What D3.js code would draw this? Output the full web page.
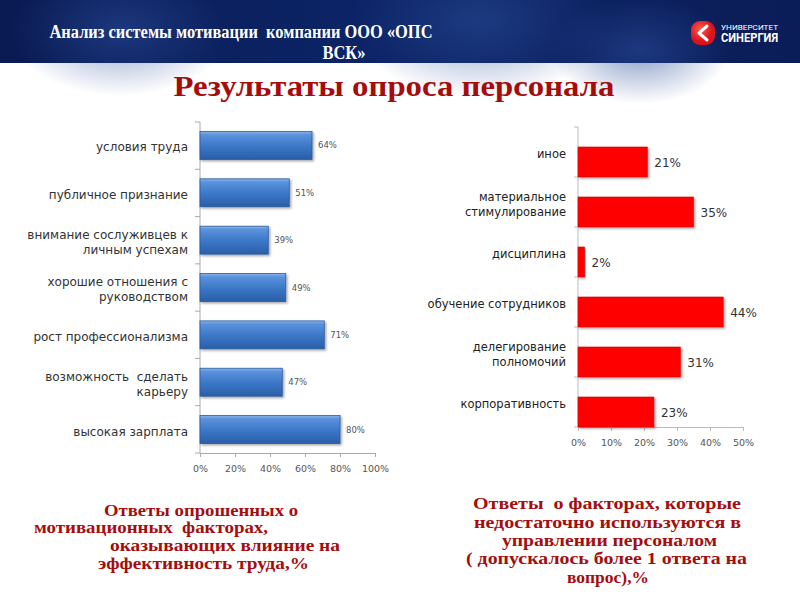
<!DOCTYPE html>
<html><head><meta charset="utf-8">
<script src="https://cdn.jsdelivr.net/npm/d3@7"></script>
<style>body{margin:0;background:#fff}svg{display:block}text{white-space:pre}</style>
</head><body>
<script>
// ---- data ----
const leftCategories = ["условия труда","публичное признание","внимание сослуживцев к\nличным успехам","хорошие отношения с\nруководством","рост профессионализма","возможность  сделать\nкарьеру","высокая зарплата"];
const leftValues = [0.64,0.51,0.39,0.49,0.71,0.47,0.80];
const leftTicks = [0,0.2,0.4,0.6,0.8,1.0];
const rightCategories = ["иное","материальное\nстимулирование","дисциплина","обучение сотрудников","делегирование\nполномочий","корпоративность"];
const rightValues = [0.21,0.35,0.02,0.44,0.31,0.23];
const rightTicks = [0,0.1,0.2,0.3,0.4,0.5];
const titleLines = ["Анализ системы мотивации  компании ООО «ОПС","ВСК»"];
const subtitle = "Результаты опроса персонала";
const leftCaption = ["Ответы опрошенных о","мотивационных  факторах,","оказывающих влияние на","эффективность труда,%"];
const rightCaption = ["Ответы  о факторах, которые","недостаточно используются в","управлении персоналом","( допускалось более 1 ответа на","вопрос),%"];

const W=800,H=600;
const svg=d3.select("body").append("svg").attr("width",W).attr("height",H);
const defs=svg.append("defs");

// header gradient
const hg=defs.append("linearGradient").attr("id","hdr").attr("x1",0).attr("x2",1).attr("y1",0).attr("y2",0);
hg.append("stop").attr("offset","0%").attr("stop-color","#0a1a52");
hg.append("stop").attr("offset","45%").attr("stop-color","#0c2466");
hg.append("stop").attr("offset","100%").attr("stop-color","#0b1d58");
const rg=defs.append("radialGradient").attr("id","glow");
rg.append("stop").attr("offset","0%").attr("stop-color","#2a4d9a").attr("stop-opacity",0.55);
rg.append("stop").attr("offset","100%").attr("stop-color","#2a4d9a").attr("stop-opacity",0);
const bg=defs.append("linearGradient").attr("id","blueBar").attr("x1",0).attr("x2",0).attr("y1",0).attr("y2",1);
bg.append("stop").attr("offset","0%").attr("stop-color","#8ab4ec");
bg.append("stop").attr("offset","12%").attr("stop-color","#5a92dc");
bg.append("stop").attr("offset","55%").attr("stop-color","#3a76c6");
bg.append("stop").attr("offset","100%").attr("stop-color","#2a5ea8");
const lgr=defs.append("radialGradient").attr("id","logoG").attr("cx","40%").attr("cy","35%");
lgr.append("stop").attr("offset","0%").attr("stop-color","#ff5a4a");
lgr.append("stop").attr("offset","100%").attr("stop-color","#d8141c");
const sh=defs.append("filter").attr("id","shadow").attr("x","-10%").attr("y","-20%").attr("width","130%").attr("height","160%");
sh.append("feDropShadow").attr("dx",1.5).attr("dy",1.5).attr("stdDeviation",1.2).attr("flood-color","#000").attr("flood-opacity",0.35);

// header
svg.append("rect").attr("x",0).attr("y",0).attr("width",W).attr("height",63).attr("fill","url(#hdr)");
[[120,30,110],[480,20,130],[640,50,90]].forEach(([cx,cy,r])=>svg.append("ellipse").attr("cx",cx).attr("cy",cy).attr("rx",r).attr("ry",r*0.6).attr("fill","url(#glow)"));
const tl=[{y:38,x:241,len:383},{y:59,x:344,len:43}];
titleLines.forEach((t,i)=>svg.append("text").attr("x",tl[i].x).attr("y",tl[i].y).attr("text-anchor","middle")
  .attr("font-family","Liberation Serif, serif").attr("font-weight","bold").attr("font-size",18.5).attr("fill","#fff")
  .attr("textLength",tl[i].len).attr("lengthAdjust","spacingAndGlyphs").text(t));
// logo
svg.append("rect").attr("x",691).attr("y",21).attr("width",24).attr("height",24).attr("rx",9).attr("fill","url(#logoG)");
svg.append("path").attr("d","M707,26 L699,33 L707,40").attr("fill","none").attr("stroke","#fff").attr("stroke-width",3).attr("stroke-linecap","round").attr("stroke-linejoin","round");
svg.append("text").attr("x",721).attr("y",30).attr("font-family","Roboto, sans-serif").attr("font-size",8).attr("fill","#fff").attr("textLength",57).attr("lengthAdjust","spacingAndGlyphs").text("УНИВЕРСИТЕТ");
svg.append("text").attr("x",721).attr("y",42).attr("font-family","Roboto, sans-serif").attr("font-weight","bold").attr("font-size",12).attr("fill","#fff").attr("textLength",57).attr("lengthAdjust","spacingAndGlyphs").text("СИНЕРГИЯ");

// subtitle
svg.append("text").attr("x",394).attr("y",96).attr("text-anchor","middle").attr("font-family","Liberation Serif, serif")
  .attr("font-weight","bold").attr("font-size",29).attr("fill","#a50d0d").attr("textLength",441).attr("lengthAdjust","spacingAndGlyphs").text(subtitle);

// ---- left chart ----
const lx=d3.scaleLinear().domain([0,1]).range([200,375]);
const ly=d3.scaleBand().domain(leftCategories).range([122,453]).paddingInner(0.41).paddingOuter(0.2);
const lg=svg.append("g");
lg.append("line").attr("x1",lx(0)).attr("x2",lx(0)).attr("y1",122).attr("y2",453).attr("stroke","#aaa");
d3.range(leftCategories.length+1).forEach(i=>{const yy=122+i*(331/leftCategories.length);
  lg.append("line").attr("x1",lx(0)-5).attr("x2",lx(0)).attr("y1",yy).attr("y2",yy).attr("stroke","#aaa");});
const lxa=lg.append("g").attr("transform","translate(0,453)").call(d3.axisBottom(lx).tickValues(leftTicks).tickFormat(d3.format(".0%")).tickSize(4).tickPadding(8));
lxa.select(".domain").attr("stroke","#aaa");
lxa.selectAll(".tick line").attr("stroke","#aaa");
lxa.selectAll("text").attr("font-family","DejaVu Sans, sans-serif").attr("font-size",9.5).attr("fill","#555");
lg.selectAll("rect.bar").data(leftValues).join("rect").attr("class","bar")
  .attr("x",lx(0)).attr("y",(d,i)=>ly(leftCategories[i])).attr("width",d=>lx(d)-lx(0)).attr("height",ly.bandwidth())
  .attr("fill","url(#blueBar)").attr("stroke","#2b5b9c").attr("stroke-width",0.8).attr("filter","url(#shadow)");
lg.selectAll("text.val").data(leftValues).join("text").attr("class","val")
  .attr("x",d=>lx(d)+6).attr("y",(d,i)=>ly(leftCategories[i])+ly.bandwidth()/2+3)
  .attr("font-family","DejaVu Sans, sans-serif").attr("font-size",8.5).attr("fill","#555").text(d=>d3.format(".0%")(d));
leftCategories.forEach(c=>{
  const lines=c.split("\n"); const cy=ly(c)+ly.bandwidth()/2+2; const lh=15;
  const t=lg.append("text").attr("text-anchor","end").attr("font-family","DejaVu Sans, sans-serif").attr("font-size",12).attr("fill","#333");
  lines.forEach((s,j)=>t.append("tspan").attr("x",188).attr("y",cy+4+(j-(lines.length-1)/2)*lh).text(s));
});

// ---- right chart ----
const rx=d3.scaleLinear().domain([0,0.5]).range([578,743]);
const ry=d3.scaleBand().domain(rightCategories).range([127,427]).paddingInner(0).paddingOuter(0);
const rgp=svg.append("g");
rgp.append("line").attr("x1",rx(0)).attr("x2",rx(0)).attr("y1",127).attr("y2",427).attr("stroke","#bbb");
d3.range(rightCategories.length+1).forEach(i=>{const yy=127+i*ry.step();
  rgp.append("line").attr("x1",rx(0)-4).attr("x2",rx(0)).attr("y1",yy).attr("y2",yy).attr("stroke","#bbb");});
const rxa=rgp.append("g").attr("transform","translate(0,427)").call(d3.axisBottom(rx).tickValues(rightTicks).tickFormat(d3.format(".0%")).tickSize(4).tickPadding(8));
rxa.select(".domain").attr("stroke","#bbb");
rxa.selectAll(".tick line").attr("stroke","#bbb");
rxa.selectAll("text").attr("font-family","DejaVu Sans, sans-serif").attr("font-size",9.5).attr("fill","#555");
const rbh=ry.bandwidth()*0.6;
rgp.selectAll("rect.bar").data(rightValues).join("rect").attr("class","bar")
  .attr("x",rx(0)).attr("y",(d,i)=>ry(rightCategories[i])+ry.bandwidth()-rbh).attr("width",d=>rx(d)-rx(0)).attr("height",rbh)
  .attr("fill","#ff0000").attr("stroke","#d40000").attr("stroke-width",0.6).attr("filter","url(#shadow)");
rgp.selectAll("text.val").data(rightValues).join("text").attr("class","val")
  .attr("x",d=>rx(d)+7).attr("y",(d,i)=>ry(rightCategories[i])+ry.bandwidth()-rbh/2+5)
  .attr("font-family","DejaVu Sans, sans-serif").attr("font-size",12).attr("fill","#333").text(d=>d3.format(".0%")(d));
rightCategories.forEach(c=>{
  const lines=c.split("\n"); const cy=ry(c)+ry.bandwidth()/2+2; const lh=15;
  const t=rgp.append("text").attr("text-anchor","end").attr("font-family","DejaVu Sans, sans-serif").attr("font-size",11.5).attr("fill","#222");
  lines.forEach((s,j)=>t.append("tspan").attr("x",566).attr("y",cy+4+(j-(lines.length-1)/2)*lh).text(s));
});

// captions
const capStyle=s=>s.attr("font-family","Liberation Serif, serif").attr("font-weight","bold").attr("font-size",16).attr("fill","#a50d0d").attr("lengthAdjust","spacingAndGlyphs");
const lcPos=[[104,516,194],[34,533,234],[110,551,230],[98,569,211]];
leftCaption.forEach((s,i)=>capStyle(svg.append("text")).attr("x",lcPos[i][0]).attr("y",lcPos[i][1]).attr("textLength",lcPos[i][2]).text(s));
const rcPos=[[473,509,268],[474,528,267],[502,546,215],[466,564,281],[567,583,82]];
rightCaption.forEach((s,i)=>capStyle(svg.append("text")).attr("x",rcPos[i][0]).attr("y",rcPos[i][1]).attr("textLength",rcPos[i][2]).text(s));
</script>
</body></html>
